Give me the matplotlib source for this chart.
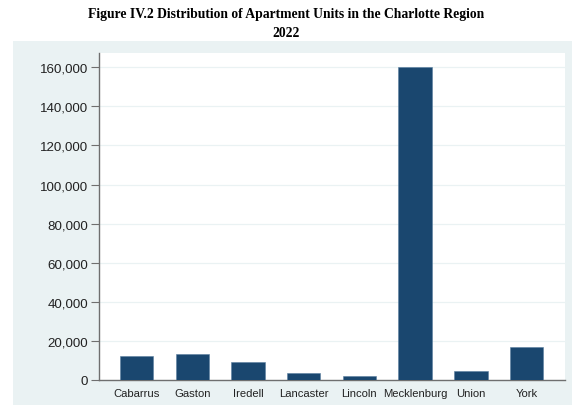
import matplotlib
matplotlib.use("Agg")
import matplotlib.pyplot as plt

counties = ["Cabarrus", "Gaston", "Iredell", "Lancaster", "Lincoln",
            "Mecklenburg", "Union", "York"]
units = [12200, 13100, 9200, 3400, 2050, 160300, 4600, 16700]
yticks = [0, 20000, 40000, 60000, 80000, 100000, 120000, 140000, 160000]
title = "Figure IV.2 Distribution of Apartment Units in the Charlotte Region\n2022"

W, H = 572, 406
fig = plt.figure(figsize=(W / 100, H / 100), dpi=100)
fig.patch.set_facecolor("white")

# Stata-style graph region (light blue-gray)
bg = fig.add_axes([13 / W, 0, (W - 13) / W, (H - 42) / H], zorder=0)
bg.set_facecolor("#EAF2F3")
bg.set_xticks([])
bg.set_yticks([])
for s in bg.spines.values():
    s.set_visible(False)

ax = fig.add_axes([99 / W, (H - 381) / H, (565 - 99) / W, (381 - 54) / H],
                  zorder=1)
ax.set_facecolor("white")
x = list(range(len(counties)))
ax.bar(x, units, width=0.6, color="#1A476F", edgecolor="#5b7fa0",
       linewidth=0.4, zorder=3)
ax.set_xlim(-0.673, 7.69)
ax.set_ylim(0, 167300)
ax.set_yticks(yticks)
ax.set_yticklabels([f"{v:,}" for v in yticks])
ax.set_xticks(x)
ax.set_xticklabels(counties)
ax.grid(axis="y", color="#EAF2F3", linewidth=0.9, zorder=0)
for s in ["top", "right"]:
    ax.spines[s].set_visible(False)
for s in ["left", "bottom"]:
    ax.spines[s].set_color("#6f6f6f")
    ax.spines[s].set_linewidth(1.0)
ax.tick_params(axis="y", length=6, width=0.8, color="#6f6f6f",
               labelsize=9.6, labelcolor="#222222", pad=2)
ax.tick_params(axis="x", length=0, labelsize=8.1, labelcolor="#222222", pad=6)
for lab in ax.get_xticklabels() + ax.get_yticklabels():
    lab.set_fontfamily("Liberation Sans")

fig.text(0.5, 1 - 24 / H, title, ha="center", va="center",
         fontfamily="Liberation Serif", fontweight="bold", fontsize=9.8,
         linespacing=1.55)

fig.savefig("out.png", dpi=100)
